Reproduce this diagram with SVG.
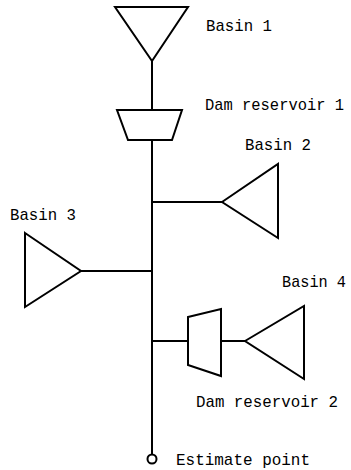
<svg xmlns="http://www.w3.org/2000/svg" width="351" height="470" viewBox="0 0 351 470">
<style>
.s{fill:none;stroke:#000;stroke-width:2;stroke-linejoin:miter}
.c{stroke:#000;stroke-width:2;fill:none}
text{font-family:"Liberation Mono","DejaVu Sans Mono",monospace;font-size:15.5px;fill:#000}
</style>
<rect width="351" height="470" fill="#fff"/>
<g id="connectors">
<line class="c" x1="152" y1="61" x2="152" y2="110"/>
<line class="c" x1="152" y1="140" x2="152" y2="455"/>
<line class="c" x1="152" y1="202" x2="222" y2="202"/>
<line class="c" x1="81" y1="271" x2="152" y2="271"/>
<line class="c" x1="152" y1="341" x2="188" y2="341"/>
<line class="c" x1="221" y1="341" x2="245" y2="341"/>
</g>
<g id="basin1">
<polygon class="s" points="115,7 188,7 152,61"/>
<text transform="translate(206,31) scale(1,1.12)" textLength="66" lengthAdjust="spacingAndGlyphs">Basin 1</text>
</g>
<g id="dam1">
<polygon class="s" points="117,110 182,110 172,140 128,140"/>
<text transform="translate(205,110) scale(1,1.12)" textLength="139" lengthAdjust="spacingAndGlyphs">Dam reservoir 1</text>
</g>
<g id="basin2">
<polygon class="s" points="222,202 278,164 278,238"/>
<text transform="translate(245,150) scale(1,1.12)" textLength="66" lengthAdjust="spacingAndGlyphs">Basin 2</text>
</g>
<g id="basin3">
<polygon class="s" points="25,233 81,271 25,307"/>
<text transform="translate(10,220) scale(1,1.12)" textLength="66" lengthAdjust="spacingAndGlyphs">Basin 3</text>
</g>
<g id="dam2">
<polygon class="s" points="188,317 221,309 221,376 188,365"/>
<text transform="translate(196,407) scale(1,1.12)" textLength="142" lengthAdjust="spacingAndGlyphs">Dam reservoir 2</text>
</g>
<g id="basin4">
<polygon class="s" points="245,341 304,306 304,379"/>
<text transform="translate(282,287) scale(1,1.12)" textLength="64" lengthAdjust="spacingAndGlyphs">Basin 4</text>
</g>
<g id="estimate">
<circle class="s" cx="152" cy="459" r="4.5"/>
<text transform="translate(176,465) scale(1,1.12)" textLength="134" lengthAdjust="spacingAndGlyphs">Estimate point</text>
</g>
</svg>
